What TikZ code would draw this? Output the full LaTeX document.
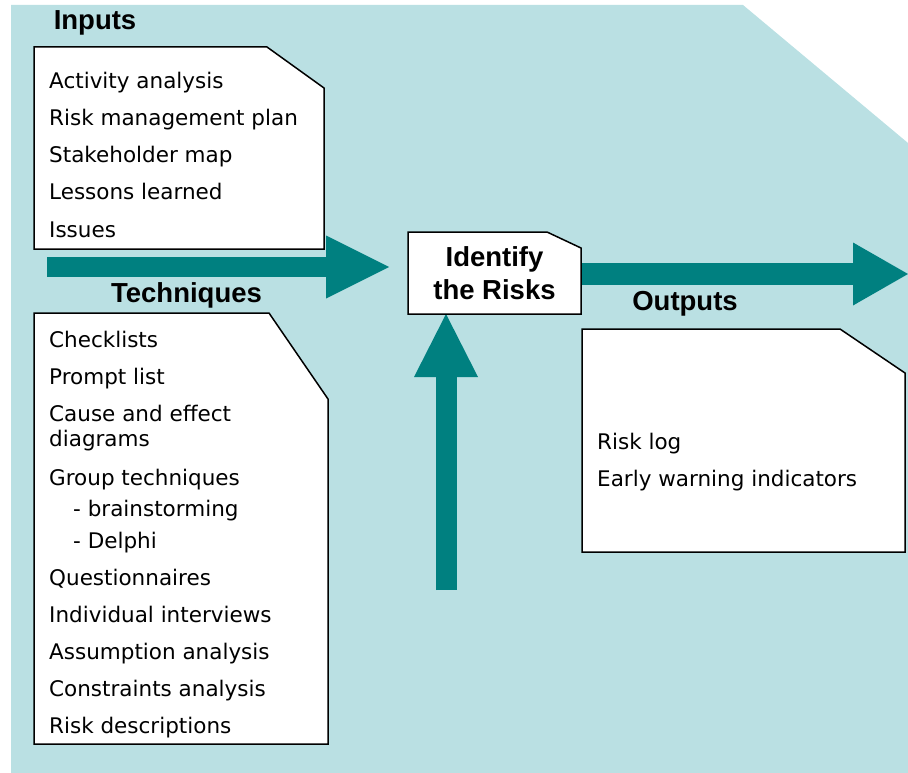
\documentclass[tikz,border=0pt]{standalone}
\usepackage{fontspec}
\setmainfont{DejaVu Sans}
\newfontfamily\titlefont{Liberation Sans}
\usetikzlibrary{arrows.meta}
\definecolor{bgc}{RGB}{186,224,227}
\definecolor{arrowc}{RGB}{0,128,128}
\newcommand\cutbox[3]{\filldraw[boxline] (#1.north west) -- ([xshift=-#2]#1.north east) -- ([yshift=-#3]#1.north east) -- (#1.south east) -- (#1.south west) -- cycle;}
\tikzset{
  boxline/.style={draw=black, fill=white, line width=1.5pt, line join=miter},
  area/.style={inner sep=0pt, outer sep=0pt, draw=none},
  item/.style={anchor=base west, inner sep=0pt, font=\fontsize{21.5}{24}\selectfont},
  title/.style={anchor=base, inner sep=0pt, font=\titlefont\bfseries\fontsize{27.5}{33}\selectfont},
  flowarrow/.style={draw=arrowc, line width=#1, -{Triangle[length=63pt,width=63pt,line width=0pt,fill=arrowc]}},
}
\begin{document}
\begin{tikzpicture}[x=1pt,y=-1pt]
\useasboundingbox (0,0) rectangle (908,773);
\fill[bgc] (11,5) -- (743,5) -- (908,143) -- (908,773) -- (11,773) -- cycle;

% region nodes
\node[area, minimum width=290pt, minimum height=202pt] (inbox) at (179,148) {};
\node[area, minimum width=294pt, minimum height=431pt] (tebox) at (181,528.5) {};
\node[area, minimum width=323pt, minimum height=223pt] (outbox) at (743.5,440.5) {};
\node[area, minimum width=173pt, minimum height=82pt] (idrarea) at (494.5,273) {};

% arrows
\coordinate (inStart) at (47,267);
\coordinate (inTip) at (389,267);
\coordinate (outTip) at (908,274);
\coordinate (upStart) at (446,590);
\draw[flowarrow=20pt] (inStart) -- (inTip);
\draw[flowarrow=22pt, -{Triangle[length=55pt,width=63pt,line width=0pt,fill=arrowc]}] (idrarea.east |- outTip) -- (outTip);
\draw[flowarrow=21pt, -{Triangle[length=63pt,width=64pt,line width=0pt,fill=arrowc]}] (upStart) -- (idrarea.south -| upStart);

% boxes
\cutbox{inbox}{57pt}{41pt}
\cutbox{tebox}{59pt}{86pt}
\cutbox{outbox}{65pt}{44pt}
\cutbox{idrarea}{34pt}{16pt}

\node[title, align=center, anchor=center] (idr) at (494.5,273.5) {Identify\\the Risks};

% titles
\node[title] (tin) at (95,30) {Inputs};
\node[title] (tte) at (186.5,302) {Techniques};
\node[title] (tout) at (685,310) {Outputs};

% inputs list
\foreach \t/\y [count=\i] in {Activity analysis/89, Risk management plan/126, Stakeholder map/163, Lessons learned/200, Issues/237}
  \node[item] (in\i) at (49,\y) {\t};

% techniques list
\foreach \t/\x/\y [count=\i] in {Checklists/49/347, Prompt list/49/384, Cause and effect/49/421, diagrams/49/446, Group techniques/49/485, - brainstorming/73/516, - Delphi/73/548, Questionnaires/49/585, Individual interviews/49/622, Assumption analysis/49/659, Constraints analysis/49/696, Risk descriptions/49/733}
  \node[item] (te\i) at (\x,\y) {\t};

% outputs list
\node[item] (out1) at (597,449) {Risk log};
\node[item] (out2) at (597,486) {Early warning indicators};
\end{tikzpicture}
\end{document}
